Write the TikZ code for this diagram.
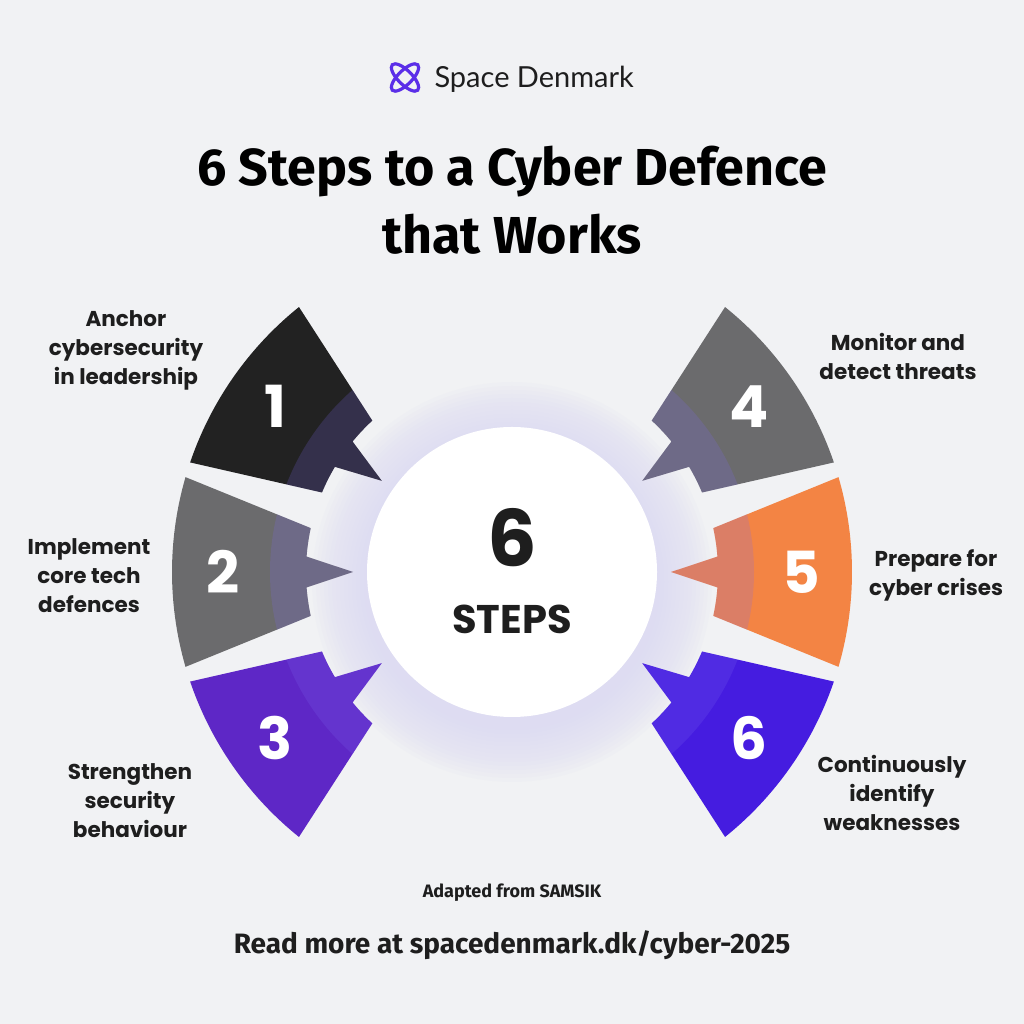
\documentclass[tikz,border=0pt]{standalone}
\usepackage{fontspec}
\setmainfont{Poppins}
\newfontfamily\titlefont{Fira Sans}
\newfontfamily\brandfont{Lato}
\usetikzlibrary{positioning, calc}
\definecolor{bg}{RGB}{241, 242, 244}
\definecolor{ink}{RGB}{30, 30, 30}
\definecolor{brand}{RGB}{91, 46, 232}
\definecolor{halo}{RGB}{222, 220, 242}
\definecolor{band}{RGB}{126, 104, 240}
\definecolor{step1}{RGB}{34, 34, 34}
\definecolor{step2}{RGB}{107, 107, 109}
\definecolor{step3}{RGB}{94, 39, 198}
\definecolor{step5}{RGB}{243, 132, 68}
\definecolor{step6}{RGB}{69, 28, 224}
\tikzset{
    stepwedge/.pic={
        \fill[#1] (-16.2:340) arc[start angle=-16.2, end angle=16.2, radius=340]
            -- (12.3:206) arc[start angle=12.3, end angle=4.3, radius=206]
            -- (0:159) -- (-4.3:206) arc[start angle=-4.3, end angle=-12.3, radius=206] -- cycle;
        \fill[band, fill opacity=0.2] (-13.8:242) arc[start angle=-13.8, end angle=13.8, radius=242]
            -- (12.3:206) arc[start angle=12.3, end angle=4.3, radius=206]
            -- (0:159) -- (-4.3:206) arc[start angle=-4.3, end angle=-12.3, radius=206] -- cycle;
    },
    steplabel/.style={
        text=ink,
        align=center,
        font=\bfseries\fontsize{21.5}{29}\selectfont
    },
    stepnum/.style={
        text=white,
        font=\bfseries\fontsize{58}{58}\selectfont
    },
    titletext/.style={
        anchor=base,
        text=black,
        font=\titlefont\bfseries\fontsize{52}{52}\selectfont
    }
}
\begin{document}
\begin{tikzpicture}[x=1pt, y=1pt]
      \fill[bg] (0,0) rectangle (1024,1024);
      \coordinate (c) at (512,452);
      \coordinate (logo) at (405,946.5);

      % header
      \draw[brand, line width=3.2] (logo) circle[x radius=18, y radius=7, rotate=45];
      \draw[brand, line width=3.2] (logo) circle[x radius=18, y radius=7, rotate=-45];
      \node[anchor=base west, text=ink, font=\brandfont\fontsize{29}{29}\selectfont] (brandname) at (431,936) {Space Denmark};
      \node[titletext] (title1) at (512,838) {6 Steps to a Cyber Defence};
      \node[titletext] (title2) at (512,770) {that Works};

      % wheel
      \foreach \r in {148,152,...,200}
          \fill[halo, opacity=0.12] ([yshift=-10]c) circle (\r);
      \pic[rotate=145] at (c) {stepwedge=step1};
      \pic[rotate=180] at (c) {stepwedge=step2};
      \pic[rotate=215] at (c) {stepwedge=step3};
      \pic[rotate=35] at (c) {stepwedge=step2};
      \pic[rotate=0] at (c) {stepwedge=step5};
      \pic[rotate=-35] at (c) {stepwedge=step6};
      \node[circle, fill=white, minimum size=290pt, inner sep=0pt] (hub) at (c) {};
      \node[text=ink, font=\bfseries\fontsize{78}{78}\selectfont] (hubnum) at (512,486) {6};
      \node[text=ink, font=\bfseries\fontsize{40}{40}\selectfont] (hubtext) at (512,405) {STEPS};

      \node[stepnum] (n1) at ([shift={(145:289)}]c) {1};
      \node[stepnum] (n2) at ([shift={(180:289)}]c) {2};
      \node[stepnum] (n3) at ([shift={(215:289)}]c) {3};
      \node[stepnum] (n4) at ([shift={(35:289)}]c) {4};
      \node[stepnum] (n5) at ([shift={(0:289)}]c) {5};
      \node[stepnum] (n6) at ([shift={(-35:289)}]c) {6};

      % labels
      \node[steplabel] (l1) at (126,674) {Anchor\\cybersecurity\\in leadership};
      \node[steplabel] (l2) at (89,448) {Implement\\core tech\\defences};
      \node[steplabel] (l3) at (130,223) {Strengthen\\security\\behaviour};
      \node[steplabel] (l4) at (898,668) {Monitor and\\detect threats};
      \node[steplabel] (l5) at (936,449) {Prepare for\\cyber crises};
      \node[steplabel] (l6) at (892,231) {Continuously\\identify\\weaknesses};

      % footer
      \node[text=ink, font=\titlefont\bfseries\fontsize{18}{18}\selectfont] (source) at (512,131) {Adapted from SAMSIK};
      \node[text=ink, font=\titlefont\bfseries\fontsize{28}{28}\selectfont] (readmore) at (512,79) {Read more at spacedenmark.dk/cyber-2025};
    \end{tikzpicture}
\end{document}
